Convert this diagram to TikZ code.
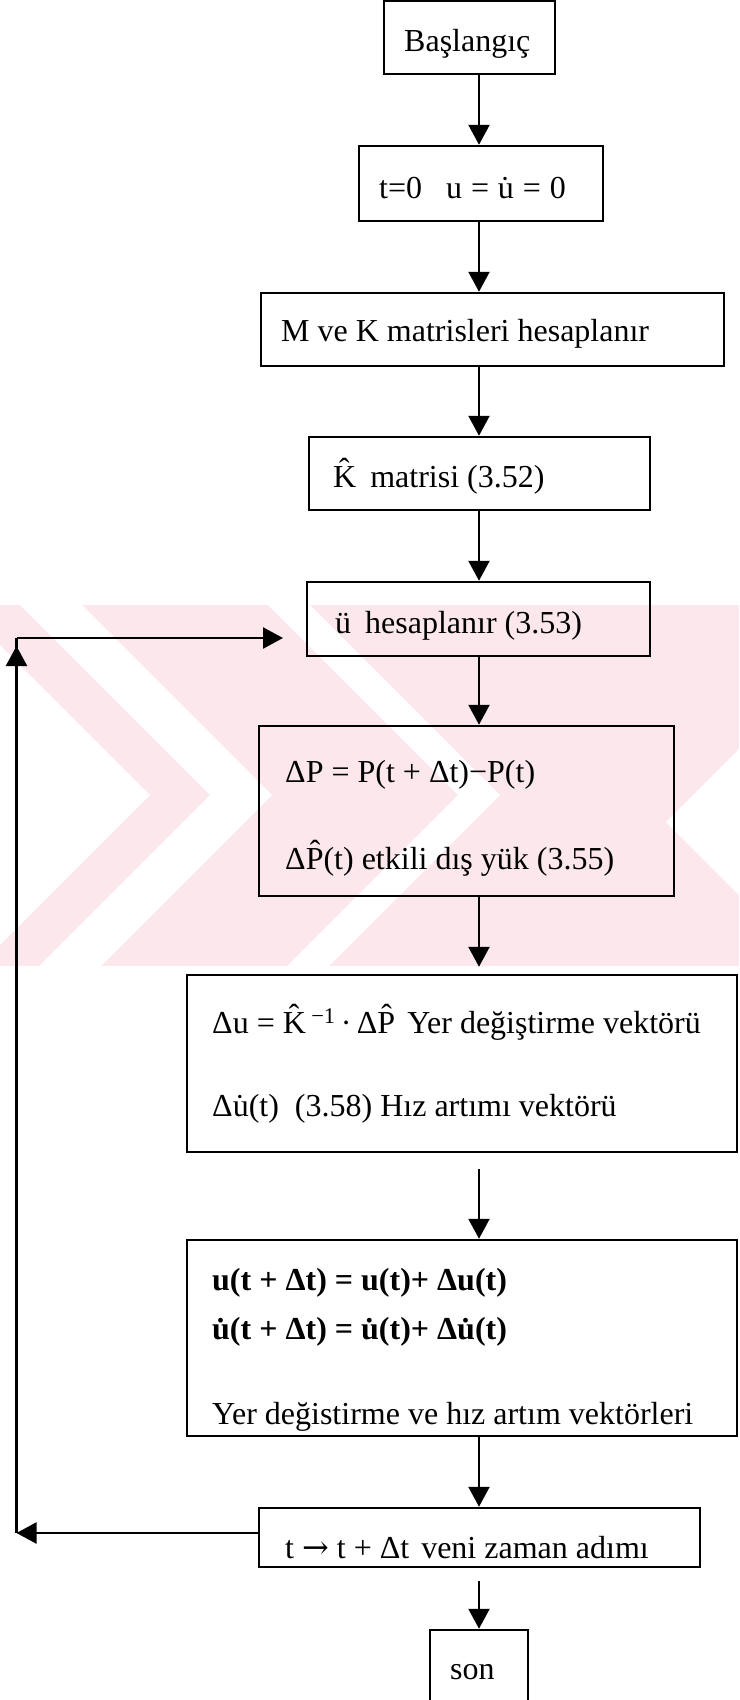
\documentclass[tikz,border=0pt]{standalone}
\usepackage{fontspec}
\setmainfont{Liberation Serif}
\newfontfamily\arrowfont{DejaVu Serif}
\usetikzlibrary{arrows.meta}
\definecolor{wmpink}{RGB}{252,232,236}
\begin{document}
\begin{tikzpicture}[x=1pt,y=-1pt,
  box/.style={draw, line width=2.5pt, inner sep=0},
  txt/.style={anchor=base west, inner sep=0, font=\fontsize{32}{38}\selectfont},
  arr/.style={line width=2.3pt, -{Triangle[length=20pt,width=21pt]}},
  ln/.style={line width=2.3pt}]
\useasboundingbox (0,0) rectangle (739,1700);
\fill[white] (0,0) rectangle (739,1700);
% watermark
\fill[wmpink] (0,605) rectangle (739,966);
\fill[white] (20,605) -- (82,605) -- (272,795) -- (101,966) -- (39,966) -- (210,795) -- cycle;
\fill[white] (0,645) -- (150,795) -- (0,945) -- cycle;
\fill[white] (268,605) -- (310,605) -- (500,795) -- (329,966) -- (287,966) -- (458,795) -- cycle;
\fill[white] (666,822) -- (739,749) -- (739,895) -- cycle;
% boxes
\node[box, minimum width=171pt, minimum height=73pt] (b1) at (469.5,37.5) {};
\node[box, minimum width=244pt, minimum height=75pt] (b2) at (481,183.5) {};
\node[box, minimum width=463pt, minimum height=73pt] (b3) at (492.5,329.5) {};
\node[box, minimum width=341pt, minimum height=73pt] (b4) at (479.5,473.5) {};
\node[box, minimum width=343pt, minimum height=74pt] (b5) at (478.5,619) {};
\node[box, minimum width=415pt, minimum height=170pt] (b6) at (466.5,811) {};
\node[box, minimum width=550pt, minimum height=177pt] (b7) at (462,1063.5) {};
\node[box, minimum width=550pt, minimum height=196pt] (b8) at (462,1338) {};
\node[box, minimum width=441pt, minimum height=59pt] (b9) at (479.5,1537.5) {};
\node[box, minimum width=98pt, minimum height=80pt] (b10) at (479,1670) {};
% texts
\node[txt] (t1) at (404,51) {Başlangıç};
\node[txt] (t2) at (379,198) {t=0\hspace{24pt}u\;=\;u̇\;=\;0};
\node[txt] (t3) at (281,341) {M ve K matrisleri hesaplanır};
\node[txt] (t4) at (333,487) {K̂\hspace{14pt}matrisi (3.52)};
\node[txt] (t5) at (335,633) {ü\hspace{14pt}hesaplanır (3.53)};
\node[txt] (t6a) at (285,782) {ΔP = P(t + Δt)−P(t)};
\node[txt] (t6b) at (285,869) {ΔP̂(t) etkili dış yük (3.55)};
\node[txt] (t7a) at (212,1033) {Δu = K̂\,\textsuperscript{−1}\,·\,ΔP̂\hspace{12pt}Yer değiştirme vektörü};
\node[txt] (t7b) at (212,1116) {Δu̇(t)\hspace{16pt}(3.58) Hız artımı vektörü};
\node[txt, font=\fontsize{32}{38}\selectfont\bfseries] (t8a) at (212,1290) {u(t + Δt) = u(t)+ Δu(t)};
\node[txt, font=\fontsize{32}{38}\selectfont\bfseries] (t8b) at (212,1339) {u̇(t + Δt) = u̇(t)+ Δu̇(t)};
\node[txt] (t8c) at (212,1424) {Yer değistirme ve hız artım vektörleri};
\node[txt] (t9) at (285,1558) {t {\arrowfont →} t + Δt\hspace{12pt}veni zaman adımı};
\node[txt] (t10) at (450,1679) {son};
% connectors
\coordinate (ax) at (479,0);
\draw[arr] (b1.south -| ax) -- (b2.north -| ax);
\draw[arr] (b2.south -| ax) -- (b3.north -| ax);
\draw[arr] (b3.south -| ax) -- (b4.north -| ax);
\draw[arr] (b4.south -| ax) -- (b5.north -| ax);
\draw[arr] (b5.south -| ax) -- (b6.north -| ax);
\draw[arr, shorten >=7pt] (b6.south -| ax) -- (b7.north -| ax);
\draw[arr, shorten <=16pt] (b7.south -| ax) -- (b8.north -| ax);
\draw[arr] (b8.south -| ax) -- (b9.north -| ax);
\draw[arr, shorten <=13pt] (b9.south -| ax) -- (b10.north -| ax);
% loop back
\coordinate (lb) at (16.5,1533);
\coordinate (lt) at (16.5,638);
\coordinate (ltip) at (283,638);
\draw[arr] ([yshift=4.5pt]b9.west) -- (lb);
\draw[ln] (lb) -- (lt);
\draw[arr] (lt) -- (ltip);
\draw[arr] ([yshift=-40pt]lt) -- ([yshift=-8pt]lt);
\end{tikzpicture}
\end{document}
